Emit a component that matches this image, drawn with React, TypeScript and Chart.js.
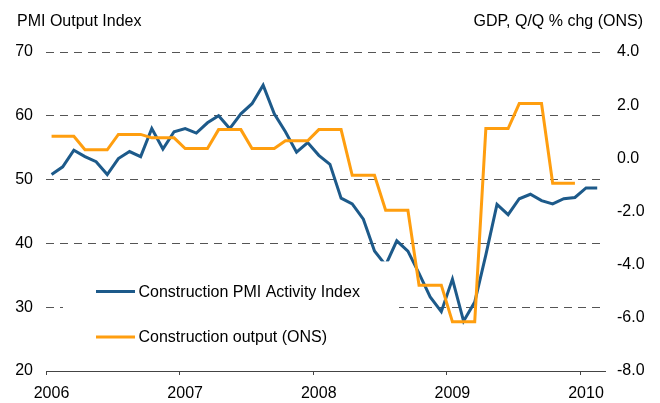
import { useEffect, useRef } from "react";
import { Chart, registerables } from "chart.js";

Chart.register(...registerables);

// ---- data ----
const yearLabels = ["2006", "2007", "2008", "2009", "2010"];
const yearTickMonths = [0, 12, 24, 36, 48]; // months since Jan 2006
const leftAxisTitle = "PMI Output Index";
const rightAxisTitle = "GDP, Q/Q % chg (ONS)";
const seriesNames = ["Construction PMI Activity Index", "Construction output (ONS)"];

// monthly, Jan 2006 .. Feb 2010
const pmiActivity = [
  50.8, 52.0, 54.6, 53.6, 52.8, 50.8, 53.3, 54.4, 53.6, 58.0, 54.8, 57.5,
  58.0, 57.3, 58.9, 60.0, 58.0, 60.3, 61.9, 64.8, 60.3, 57.5, 54.3, 55.8,
  53.8, 52.4, 47.1, 46.2, 43.8, 38.8, 36.6, 40.4, 38.8, 35.3, 31.6, 29.3,
  34.4, 27.8, 30.8, 38.2, 46.1, 44.5, 47.0, 47.7, 46.7, 46.2, 47.0, 47.2,
  48.7, 48.7,
];

// monthly (quarterly value shown for each month), Jan 2006 .. Dec 2009
const constructionOutput = [
  0.83, 0.83, 0.83, 0.32, 0.32, 0.32, 0.9, 0.9, 0.9, 0.77, 0.77, 0.77,
  0.37, 0.37, 0.37, 1.08, 1.08, 1.08, 0.37, 0.37, 0.37, 0.66, 0.66, 0.66,
  1.08, 1.08, 1.08, -0.64, -0.64, -0.64, -1.95, -1.95, -1.95, -4.77, -4.77, -4.77,
  -6.15, -6.15, -6.15, 1.12, 1.12, 1.12, 2.06, 2.06, 2.06, -0.94, -0.94, -0.94,
];

const BLUE = "#1D5A8A";
const ORANGE = "#FF9E0F";
const FONT = "'Liberation Sans', Arial, sans-serif";

export default function App() {
  const ref = useRef<HTMLCanvasElement | null>(null);

  useEffect(() => {
    document.body.style.margin = "0";
    const canvas = ref.current;
    if (!canvas) return;

    const overlay = {
      id: "overlay",
      afterDraw(chart: any) {
        const ctx = chart.ctx as CanvasRenderingContext2D;
        ctx.save();
        ctx.fillStyle = "#000";
        ctx.font = `16px ${FONT}`;
        ctx.textBaseline = "alphabetic";
        ctx.textAlign = "left";
        ctx.fillText(leftAxisTitle, 17, 26);
        ctx.textAlign = "right";
        ctx.fillText(rightAxisTitle, 643, 26);

        // legend box
        const ys = chart.scales.y;
        const top = ys.getPixelForValue(40) + 18;
        const bottom = ys.getPixelForValue(20) - 20;
        ctx.fillStyle = "#fff";
        ctx.fillRect(63, top, 336, bottom - top);
        const rows = [
          { name: seriesNames[0], color: BLUE, y: 291.5 },
          { name: seriesNames[1], color: ORANGE, y: 337 },
        ];
        ctx.lineWidth = 3;
        ctx.textAlign = "left";
        ctx.textBaseline = "middle";
        for (const r of rows) {
          ctx.strokeStyle = r.color;
          ctx.beginPath();
          ctx.moveTo(96, r.y);
          ctx.lineTo(135, r.y);
          ctx.stroke();
          ctx.fillStyle = "#000";
          ctx.fillText(r.name, 138.5, r.y + 1);
        }
        ctx.restore();
      },
    };

    const chart = new Chart(canvas, {
      type: "line",
      data: {
        datasets: [
          {
            label: seriesNames[0],
            data: pmiActivity.map((v, i) => ({ x: i + 0.5, y: v })),
            borderColor: BLUE,
            backgroundColor: BLUE,
            borderWidth: 3,
            pointRadius: 0,
            tension: 0,
            yAxisID: "y",
            order: 2,
          },
          {
            label: seriesNames[1],
            data: constructionOutput.map((v, i) => ({ x: i + 0.5, y: v })),
            borderColor: ORANGE,
            backgroundColor: ORANGE,
            borderWidth: 3,
            pointRadius: 0,
            tension: 0,
            yAxisID: "y1",
            order: 1,
          },
        ],
      },
      options: {
        responsive: false,
        animation: false,
        events: [],
        layout: { padding: { top: 52, left: 0, right: 0, bottom: 0 } },
        plugins: { legend: { display: false }, tooltip: { enabled: false } },
        scales: {
          x: {
            type: "linear",
            min: 0,
            max: 50.2,
            afterBuildTicks: (s: any) => {
              s.ticks = yearTickMonths.map((v) => ({ value: v }));
            },
            afterFit: (s: any) => {
              s.height = 32;
            },
            grid: {
              display: true,
              drawOnChartArea: false,
              drawTicks: true,
              tickLength: 4,
              color: "#444",
            },
            border: { display: true, color: "#444", width: 1 },
            ticks: {
              font: { family: FONT, size: 16 },
              color: "#000",
              padding: 9,
              labelOffset: 5.5,
              maxRotation: 0,
              autoSkip: false,
              callback: (v: any) => {
                const i = yearTickMonths.indexOf(Number(v));
                return i >= 0 ? yearLabels[i] : "";
              },
            },
          },
          y: {
            type: "linear",
            position: "left",
            min: 20,
            max: 70,
            afterFit: (s: any) => {
              s.width = 46;
            },
            ticks: {
              stepSize: 10,
              font: { family: FONT, size: 16 },
              color: "#000",
              padding: 13,
            },
            grid: {
              drawTicks: false,
              lineWidth: 1,
              color: (c: any) => (c.tick && c.tick.value === 20 ? "rgba(0,0,0,0)" : "#555"),
            },
            border: { display: false, dash: [8, 6] },
          },
          y1: {
            type: "linear",
            position: "right",
            min: -8,
            max: 4,
            afterFit: (s: any) => {
              s.width = 55;
            },
            ticks: {
              stepSize: 2,
              font: { family: FONT, size: 16 },
              color: "#000",
              padding: 12,
              callback: (v: any) => Number(v).toFixed(1),
            },
            grid: { display: false, drawTicks: false },
            border: { display: false },
          },
        },
      },
      plugins: [overlay],
    } as any);

    return () => chart.destroy();
  }, []);

  return (
    <div style={{ width: 660, height: 403 }}>
      <canvas ref={ref} width={660} height={403} />
    </div>
  );
}
